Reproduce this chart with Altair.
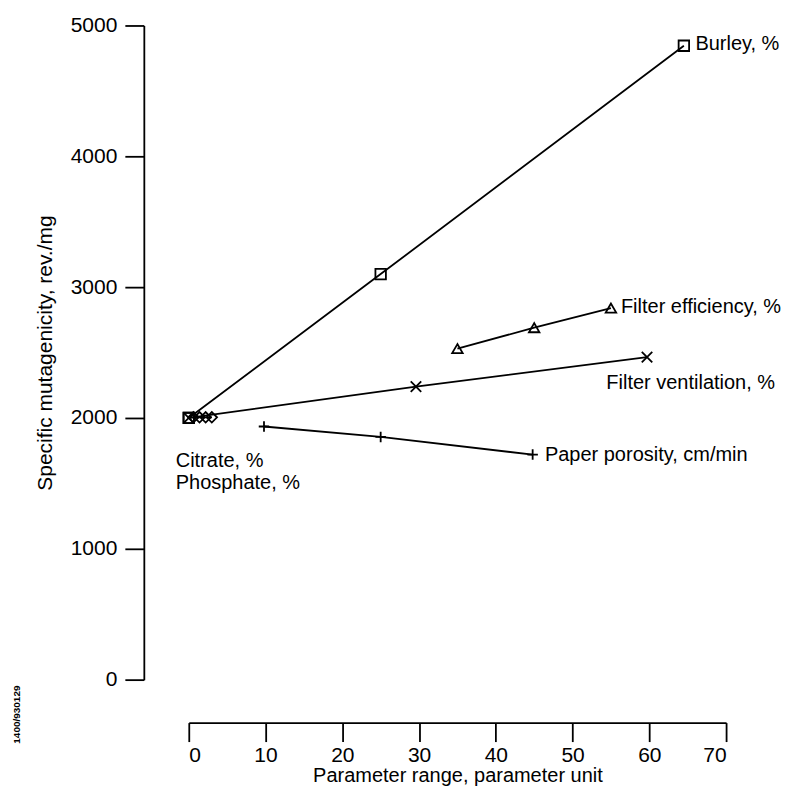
import altair as alt
import pandas as pd

FONT = "Liberation Sans"

# --- data ---
burley_x = [0, 25, 64.5]
burley_y = [2000, 3100, 4845]

eff_x = [35, 45, 55]
eff_y = [2530, 2690, 2840]

vent_x = [0, 29.6, 59.7]
vent_y = [2000, 2240, 2465]

por_x = [9.8, 25, 44.8]
por_y = [1935, 1855, 1720]

cit_x = [0, 0.6, 1.4, 2.2, 3.0]
cit_y = [2000, 2005, 2005, 2005, 2005]
cit_shape = ["square", "diamond", "diamond", "diamond", "diamond"]

label_text = ["Burley, %", "Filter efficiency, %", "Filter ventilation, %",
              "Paper porosity, cm/min", "Citrate, %", "Phosphate, %"]
label_x = [66.0, 56.3, 54.4, 46.4, -1.7, -1.7]
label_y = [4860, 2850, 2265, 1715, 1672, 1500]

x_ticks = [0, 10, 20, 30, 40, 50, 60, 70]
y_ticks = [0, 1000, 2000, 3000, 4000, 5000]

X_PATH = "M-1,-1L1,1M-1,1L1,-1"
PLUS_PATH = "M-1,0L1,0M0,-1L0,1"

rows = []
for s, xs, ys, shp in [
    ("Burley", burley_x, burley_y, ["square"] * 3),
    ("Efficiency", eff_x, eff_y, ["triangle-up"] * 3),
    ("Ventilation", vent_x, vent_y, ["x"] * 3),
    ("Porosity", por_x, por_y, ["plus"] * 3),
    ("Citrate", cit_x, cit_y, cit_shape),
]:
    for xv, yv, sh in zip(xs, ys, shp):
        rows.append({"series": s, "x": xv, "y": yv, "shape": sh})
df = pd.DataFrame(rows)
df_lin = df[df.series.isin(["Burley", "Ventilation", "Porosity", "Citrate"])]
df_eff = df[df.series == "Efficiency"]

labels = pd.DataFrame({"text": label_text, "x": label_x, "y": label_y})

xscale = alt.Scale(domain=[0, 70], nice=False, zero=False)
yscale = alt.Scale(domain=[0, 5000], nice=False, zero=False)

common = dict(grid=False, tickSize=19, domainColor="black", tickColor="black",
              domainWidth=1.8, tickWidth=1.8, labelColor="black", titleColor="black",
              labelFont=FONT, titleFont=FONT, labelFontSize=21,
              titleFontWeight="normal", format="d")
xaxis = alt.Axis(values=x_ticks, title="Parameter range, parameter unit",
                 offset=43, labelPadding=3, titlePadding=0, titleFontSize=20, **common)
yaxis = alt.Axis(values=y_ticks, title="Specific mutagenicity, rev./mg",
                 offset=45, labelPadding=8, titlePadding=15, titleFontSize=21, **common)

lines = alt.Chart(df_lin).mark_line(color="black", strokeWidth=1.8).encode(
    x=alt.X("x:Q", scale=xscale, axis=xaxis),
    y=alt.Y("y:Q", scale=yscale, axis=yaxis),
    detail="series:N",
)

eff_line = alt.Chart(df_eff).mark_line(color="black", strokeWidth=1.8, interpolate="monotone").encode(
    x=alt.X("x:Q", scale=xscale),
    y=alt.Y("y:Q", scale=yscale),
)

points = alt.Chart(df).mark_point(filled=False, color="black", strokeWidth=1.8, size=110, opacity=1).encode(
    x=alt.X("x:Q", scale=xscale),
    y=alt.Y("y:Q", scale=yscale),
    shape=alt.Shape("shape:N", legend=None,
                    scale=alt.Scale(domain=["square", "triangle-up", "x", "plus", "diamond"],
                                    range=["square", "triangle-up", X_PATH, PLUS_PATH, "diamond"])),
)

text = alt.Chart(labels).mark_text(align="left", baseline="middle", font=FONT, fontSize=20,
                                   color="black").encode(
    x=alt.X("x:Q", scale=xscale),
    y=alt.Y("y:Q", scale=yscale),
    text="text:N",
)

idtext = alt.Chart(pd.DataFrame({"t": ["1400/930129"]})).mark_text(
    angle=270, font=FONT, fontSize=10, fontWeight="bold", color="black",
    align="center", baseline="middle").encode(
    x=alt.value(-172), y=alt.value(690), text="t:N")

chart = alt.layer(lines, eff_line, points, text, idtext).properties(
    width=538, height=655,
    background="white",
    autosize=alt.AutoSizeParams(type="none"),
    padding={"left": 181, "top": 17, "right": 64, "bottom": 110},
).configure_view(strokeWidth=0, stroke=None)

chart.save("out.html", embed_options={"renderer": "svg", "actions": False})
